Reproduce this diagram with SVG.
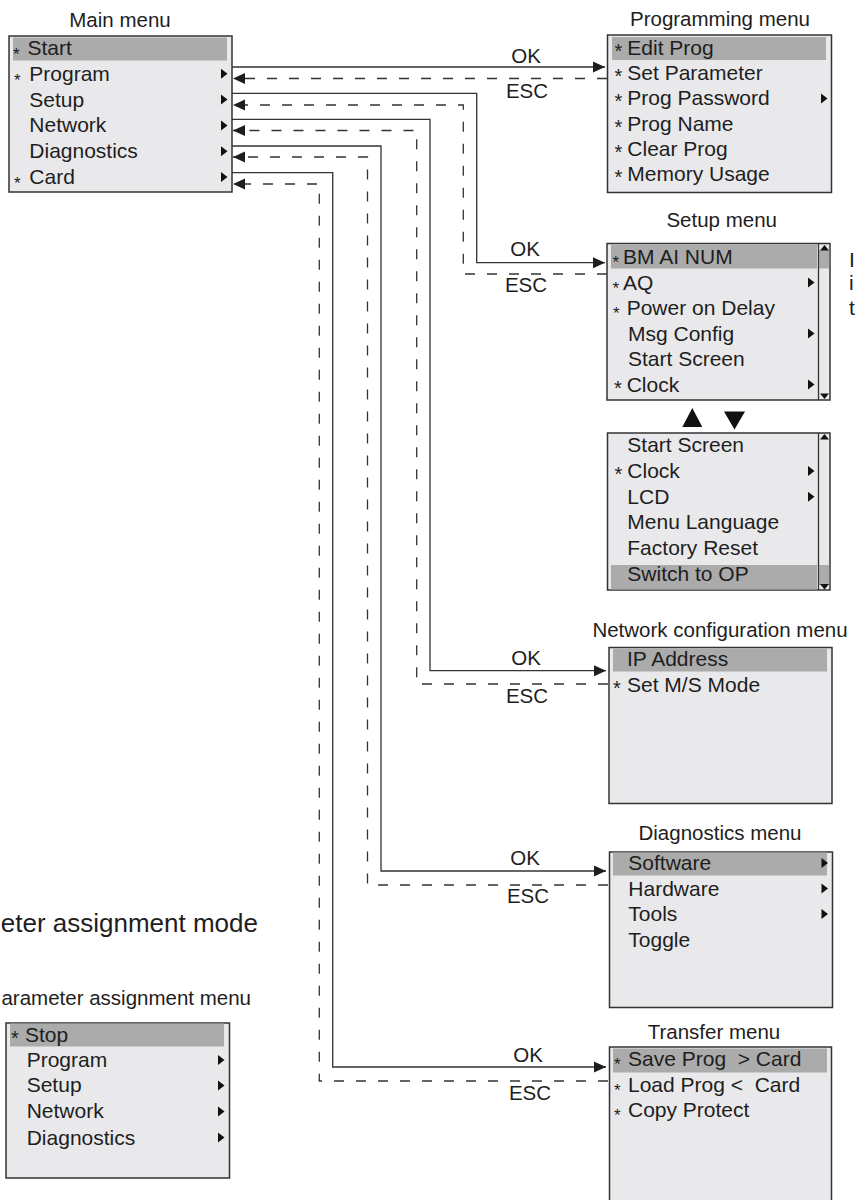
<svg xmlns="http://www.w3.org/2000/svg" width="856" height="1200" viewBox="0 0 856 1200">
<style>
text{font-family:"Liberation Sans",Arial,sans-serif;fill:#1e1e1e}
.t{font-size:20.5px;text-anchor:middle}
.i{font-size:21px;white-space:pre}
.s{font-size:17px}
.a{font-size:20px}
.lbl{font-size:20.5px;text-anchor:middle}
.box{fill:#e9e9eb;stroke:#333;stroke-width:1.5}
.hl{fill:#ababab}
.tri{fill:#111}
.ok{fill:none;stroke:#333;stroke-width:1.3}
.esc{fill:none;stroke:#333;stroke-width:1.3;stroke-dasharray:10 12}
.sb{stroke:#333;stroke-width:1.3}
</style>
<defs>
<marker id="ah" markerUnits="userSpaceOnUse" markerWidth="12" markerHeight="12" viewBox="0 0 12 12" refX="12" refY="6" orient="auto">
<path d="M0,0.5 L12,6 L0,11.5 Z" fill="#1e1e1e"/>
</marker>
<path id="rt" d="M0,-5 L6.5,0 L0,5 Z"/>
</defs>
<rect width="856" height="1200" fill="#fff"/>

<g id="connectors">
<path class="ok" d="M232,67 H605" marker-end="url(#ah)"/>
<path class="esc" d="M607,78.5 H233" marker-end="url(#ah)"/>
<path class="ok" d="M232,93.3 H476.7 V262.7 H605" marker-end="url(#ah)"/>
<path class="esc" d="M607,274 H463.3 V105 H233" marker-end="url(#ah)"/>
<path class="ok" d="M232,119.3 H430 V670.7 H606" marker-end="url(#ah)"/>
<path class="esc" d="M608,684 H416.7 V130.5 H233" marker-end="url(#ah)"/>
<path class="ok" d="M232,146 H381 V871 H606" marker-end="url(#ah)"/>
<path class="esc" d="M608,885 H367.5 V157 H233" marker-end="url(#ah)"/>
<path class="ok" d="M232,172.7 H332.7 V1067 H606" marker-end="url(#ah)"/>
<path class="esc" d="M608,1081 H319.3 V184 H233" marker-end="url(#ah)"/>
<text class="lbl" x="526" y="63">OK</text>
<text class="lbl" x="527" y="98">ESC</text>
<text class="lbl" x="525" y="256">OK</text>
<text class="lbl" x="526" y="292">ESC</text>
<text class="lbl" x="526" y="665">OK</text>
<text class="lbl" x="527" y="703">ESC</text>
<text class="lbl" x="525" y="865">OK</text>
<text class="lbl" x="528" y="903">ESC</text>
<text class="lbl" x="528" y="1062">OK</text>
<text class="lbl" x="530" y="1100">ESC</text>
</g>

<g id="main-menu">
<text class="t" x="120" y="27">Main menu</text>
<rect class="box" x="9" y="36" width="223" height="156"/>
<rect class="hl" x="13" y="37.5" width="214" height="23"/>
<text class="s" x="13" y="60">*</text><text class="i" x="27.5" y="55">Start</text>
<text class="s" x="14" y="86">*</text><text class="i" x="29.3" y="80.8">Program</text>
<text class="i" x="29.3" y="106.6">Setup</text>
<text class="i" x="29.3" y="132.4">Network</text>
<text class="i" x="29.3" y="158.2">Diagnostics</text>
<text class="s" x="14" y="189">*</text><text class="i" x="29.3" y="184">Card</text>
<use href="#rt" class="tri" x="221" y="73.8"/>
<use href="#rt" class="tri" x="221" y="99.6"/>
<use href="#rt" class="tri" x="221" y="125.4"/>
<use href="#rt" class="tri" x="221" y="151.2"/>
<use href="#rt" class="tri" x="221" y="177"/>
</g>

<g id="programming-menu">
<text class="t" x="720" y="26">Programming menu</text>
<rect class="box" x="607.5" y="35" width="224" height="157.5"/>
<rect class="hl" x="612" y="37" width="214" height="23"/>
<text class="a" x="614.5" y="58">*</text><text class="i" x="627.3" y="55">Edit Prog</text>
<text class="a" x="614.5" y="83.2">*</text><text class="i" x="627.3" y="80.2">Set Parameter</text>
<text class="a" x="614.5" y="108.4">*</text><text class="i" x="627.3" y="105.4">Prog Password</text>
<text class="a" x="614.5" y="133.6">*</text><text class="i" x="627.3" y="130.6">Prog Name</text>
<text class="a" x="614.5" y="158.8">*</text><text class="i" x="627.3" y="155.8">Clear Prog</text>
<text class="a" x="614.5" y="184">*</text><text class="i" x="627.3" y="181">Memory Usage</text>
<use href="#rt" class="tri" x="821" y="98.5"/>
</g>

<g id="setup-menu">
<text class="t" x="721.7" y="226.7">Setup menu</text>
<rect class="box" x="607" y="243.5" width="223" height="156.5"/>
<rect class="hl" x="611" y="244.5" width="206" height="24"/>
<rect class="hl" x="819.2" y="250" width="10" height="18.5"/>
<line class="sb" x1="818.5" y1="243.5" x2="818.5" y2="400"/>
<path class="tri" d="M820,250.5 L829,250.5 L824.5,245 Z"/>
<path class="tri" d="M820,393.5 L829,393.5 L824.5,399 Z"/>
<text class="s" x="612.5" y="268">*</text><text class="i" x="623" y="264">BM AI NUM</text>
<text class="s" x="612.5" y="293.5">*</text><text class="i" x="623" y="289.5">AQ</text>
<text class="s" x="613" y="319">*</text><text class="i" x="626.7" y="315">Power on Delay</text>
<text class="i" x="628" y="340.5">Msg Config</text>
<text class="i" x="628" y="366">Start Screen</text>
<text class="a" x="614" y="394.5">*</text><text class="i" x="626.7" y="391.5">Clock</text>
<use href="#rt" class="tri" x="808" y="282.5"/>
<use href="#rt" class="tri" x="808" y="333.5"/>
<use href="#rt" class="tri" x="808" y="384.5"/>
</g>

<g id="scroll-arrows">
<path class="tri" d="M682.3,427 L702.3,427 L692.3,408 Z"/>
<path class="tri" d="M724,411.5 L745,411.5 L734.5,429.5 Z"/>
</g>

<g id="setup-menu-scrolled">
<rect class="box" x="607.5" y="433" width="222.5" height="157"/>
<rect class="hl" x="611" y="565" width="206" height="24.5"/>
<rect class="hl" x="819.2" y="565" width="10" height="20"/>
<line class="sb" x1="818.5" y1="433" x2="818.5" y2="590"/>
<path class="tri" d="M820,439.5 L829,439.5 L824.5,434 Z"/>
<path class="tri" d="M820,584 L829,584 L824.5,589.5 Z"/>
<text class="i" x="627.3" y="452">Start Screen</text>
<text class="a" x="614.5" y="480.8">*</text><text class="i" x="627.3" y="477.8">Clock</text>
<text class="i" x="627.3" y="503.6">LCD</text>
<text class="i" x="627.3" y="529.4">Menu Language</text>
<text class="i" x="627.3" y="555.2">Factory Reset</text>
<text class="i" x="627.3" y="581">Switch to OP</text>
<use href="#rt" class="tri" x="808" y="471"/>
<use href="#rt" class="tri" x="808" y="496.8"/>
</g>

<g id="side-note">
<text class="i" x="849" y="266.7">I</text>
<text class="i" x="849" y="290">i</text>
<text class="i" x="849" y="315">t</text>
</g>

<g id="network-menu">
<text class="t" x="720" y="636.7">Network configuration menu</text>
<rect class="box" x="609" y="647.5" width="223" height="156"/>
<rect class="hl" x="613" y="648.5" width="214" height="23"/>
<text class="i" x="627" y="665.5">IP Address</text>
<text class="a" x="613" y="694.5">*</text><text class="i" x="627" y="691.5">Set M/S Mode</text>
</g>

<g id="diagnostics-menu">
<text class="t" x="720" y="840">Diagnostics menu</text>
<rect class="box" x="609.5" y="852" width="223" height="155.5"/>
<rect class="hl" x="613" y="852.5" width="214" height="23"/>
<text class="i" x="628.3" y="870">Software</text>
<text class="i" x="628.3" y="895.5">Hardware</text>
<text class="i" x="628.3" y="921">Tools</text>
<text class="i" x="628.3" y="946.5">Toggle</text>
<use href="#rt" class="tri" x="821.5" y="863"/>
<use href="#rt" class="tri" x="821.5" y="888.5"/>
<use href="#rt" class="tri" x="821.5" y="914"/>
</g>

<g id="transfer-menu">
<text class="t" x="714" y="1039">Transfer menu</text>
<rect class="box" x="609.5" y="1047" width="222" height="170"/>
<rect class="hl" x="613" y="1048.5" width="214" height="24"/>
<text class="s" x="614" y="1070">*</text><text class="i" x="628" y="1066">Save Prog  &gt; Card</text>
<text class="s" x="614" y="1095.5">*</text><text class="i" x="628" y="1091.5">Load Prog &lt;  Card</text>
<text class="s" x="614" y="1121">*</text><text class="i" x="628" y="1117">Copy Protect</text>
</g>

<g id="parameter-mode">
<text x="258" y="931.5" style="font-size:26px;text-anchor:end">eter assignment mode</text>
<text x="251" y="1005" style="font-size:20.5px;text-anchor:end">arameter assignment menu</text>
</g>

<g id="parameter-menu">
<rect class="box" x="6" y="1023" width="223.5" height="155"/>
<rect class="hl" x="10" y="1023.5" width="214" height="23"/>
<text class="a" x="11" y="1045">*</text><text class="i" x="25" y="1041.7">Stop</text>
<text class="i" x="26.7" y="1066.7">Program</text>
<text class="i" x="26.7" y="1092.3">Setup</text>
<text class="i" x="26.7" y="1118.3">Network</text>
<text class="i" x="26.7" y="1144.5">Diagnostics</text>
<use href="#rt" class="tri" x="218" y="1060"/>
<use href="#rt" class="tri" x="218" y="1085.5"/>
<use href="#rt" class="tri" x="218" y="1111.5"/>
<use href="#rt" class="tri" x="218" y="1137.5"/>
</g>
</svg>
